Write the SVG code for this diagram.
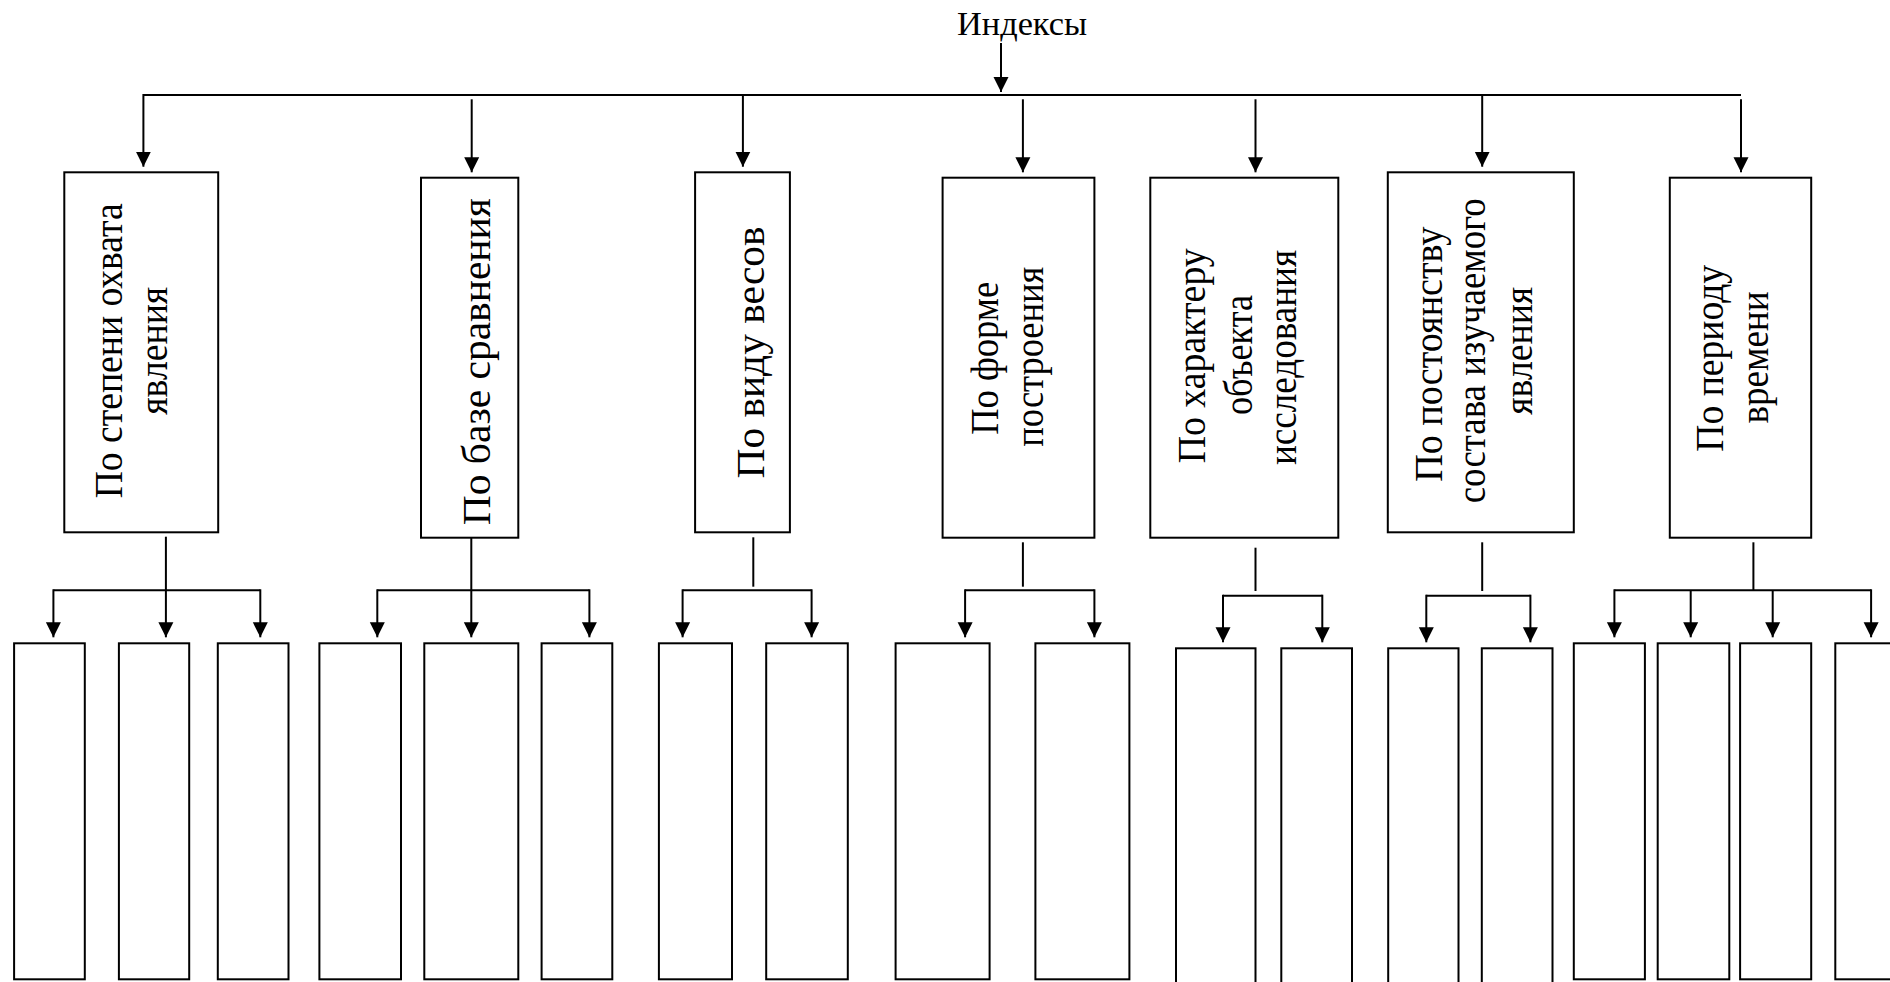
<svg xmlns="http://www.w3.org/2000/svg" width="1890" height="982" viewBox="0 0 1890 982">
<style>
  .box { fill: #ffffff; stroke: #000000; stroke-width: 2; }
  .ln { fill: none; stroke: #000000; stroke-width: 2; }
  .arr { fill: none; stroke: #000000; stroke-width: 2; marker-end: url(#ah); }
  .t { font-family: "Liberation Serif", "Times New Roman", serif; font-size: 40px; fill: #000000; text-anchor: middle; }
  .title { font-family: "Liberation Serif", "Times New Roman", serif; font-size: 33px; fill: #000000; text-anchor: middle; }
</style>
<defs>
  <marker id="ah" markerUnits="userSpaceOnUse" markerWidth="16" markerHeight="16" viewBox="0 0 16 16" refX="15" refY="8" orient="auto">
    <path d="M0,0.5 L15,8 L0,15.5 z" fill="#000000"/>
  </marker>
</defs>
<rect width="1890" height="982" fill="#ffffff"/>

<g id="root">
  <text class="title" x="1022" y="35" textLength="130" lengthAdjust="spacingAndGlyphs">Индексы</text>
</g>

<g id="connectors">
  <line class="arr" x1="1001" y1="43" x2="1001" y2="92"/>
  <line class="ln" x1="143.4" y1="95" x2="1741" y2="95"/>
  <line class="arr" x1="143.4" y1="94" x2="143.4" y2="166.7"/>
  <line class="arr" x1="471.7" y1="99.3" x2="471.7" y2="172.3"/>
  <line class="arr" x1="742.9" y1="95" x2="742.9" y2="166.7"/>
  <line class="arr" x1="1022.9" y1="99.3" x2="1022.9" y2="172.3"/>
  <line class="arr" x1="1255.5" y1="99.3" x2="1255.5" y2="172.3"/>
  <line class="arr" x1="1482.2" y1="95" x2="1482.2" y2="166.7"/>
  <line class="arr" x1="1741" y1="99.3" x2="1741" y2="172.3"/>

  <!-- group 1 -->
  <line class="ln" x1="165.9" y1="536.7" x2="165.9" y2="590.3"/>
  <line class="ln" x1="53.4" y1="590.3" x2="260.3" y2="590.3"/>
  <line class="arr" x1="53.4" y1="589.3" x2="53.4" y2="637.3"/>
  <line class="arr" x1="165.9" y1="590.3" x2="165.9" y2="637.3"/>
  <line class="arr" x1="260.3" y1="589.3" x2="260.3" y2="637.3"/>
  <!-- group 2 -->
  <line class="ln" x1="471.3" y1="537.7" x2="471.3" y2="590.3"/>
  <line class="ln" x1="377.3" y1="590.3" x2="589.4" y2="590.3"/>
  <line class="arr" x1="377.3" y1="589.3" x2="377.3" y2="637.3"/>
  <line class="arr" x1="471.3" y1="590.3" x2="471.3" y2="637.3"/>
  <line class="arr" x1="589.4" y1="589.3" x2="589.4" y2="637.3"/>
  <!-- group 3 -->
  <line class="ln" x1="753.3" y1="537.3" x2="753.3" y2="586.7"/>
  <line class="ln" x1="682.6" y1="590.3" x2="811.6" y2="590.3"/>
  <line class="arr" x1="682.6" y1="589.3" x2="682.6" y2="637.3"/>
  <line class="arr" x1="811.6" y1="589.3" x2="811.6" y2="637.3"/>
  <!-- group 4 -->
  <line class="ln" x1="1022.9" y1="542.3" x2="1022.9" y2="586.7"/>
  <line class="ln" x1="965.1" y1="590.3" x2="1094.4" y2="590.3"/>
  <line class="arr" x1="965.1" y1="589.3" x2="965.1" y2="637.3"/>
  <line class="arr" x1="1094.4" y1="589.3" x2="1094.4" y2="637.3"/>
  <!-- group 5 -->
  <line class="ln" x1="1255.5" y1="547.7" x2="1255.5" y2="591"/>
  <line class="ln" x1="1223" y1="595.7" x2="1322.3" y2="595.7"/>
  <line class="arr" x1="1223" y1="594.7" x2="1223" y2="642.3"/>
  <line class="arr" x1="1322.3" y1="594.7" x2="1322.3" y2="642.3"/>
  <!-- group 6 -->
  <line class="ln" x1="1482.2" y1="542.3" x2="1482.2" y2="591"/>
  <line class="ln" x1="1426.3" y1="595.7" x2="1530.4" y2="595.7"/>
  <line class="arr" x1="1426.3" y1="594.7" x2="1426.3" y2="642.3"/>
  <line class="arr" x1="1530.4" y1="594.7" x2="1530.4" y2="642.3"/>
  <!-- group 7 -->
  <line class="ln" x1="1753.4" y1="542.3" x2="1753.4" y2="590.3"/>
  <line class="ln" x1="1614.4" y1="590.3" x2="1871.1" y2="590.3"/>
  <line class="arr" x1="1614.4" y1="589.3" x2="1614.4" y2="637.3"/>
  <line class="arr" x1="1690.7" y1="590.3" x2="1690.7" y2="637.3"/>
  <line class="arr" x1="1772.7" y1="590.3" x2="1772.7" y2="637.3"/>
  <line class="arr" x1="1871.1" y1="589.3" x2="1871.1" y2="637.3"/>
</g>

<g id="n1">
  <rect class="box" x="64.3" y="172.3" width="153.9" height="360"/>
  <text class="t" transform="translate(122,350.8) rotate(-90)" textLength="295" lengthAdjust="spacingAndGlyphs">По степени охвата</text>
  <text class="t" transform="translate(167.4,350.8) rotate(-90)" textLength="128" lengthAdjust="spacingAndGlyphs">явления</text>
</g>
<g id="n2">
  <rect class="box" x="421" y="177.7" width="97.3" height="360"/>
  <text class="t" transform="translate(489.7,361.7) rotate(-90)" textLength="327" lengthAdjust="spacingAndGlyphs">По базе сравнения</text>
</g>
<g id="n3">
  <rect class="box" x="695.1" y="172.3" width="94.8" height="360"/>
  <text class="t" transform="translate(764,352.5) rotate(-90)" textLength="252" lengthAdjust="spacingAndGlyphs">По виду весов</text>
</g>
<g id="n4">
  <rect class="box" x="942.6" y="177.7" width="151.8" height="360"/>
  <text class="t" transform="translate(997.5,358.3) rotate(-90)" textLength="153" lengthAdjust="spacingAndGlyphs">По форме</text>
  <text class="t" transform="translate(1043,356.7) rotate(-90)" textLength="180" lengthAdjust="spacingAndGlyphs">построения</text>
</g>
<g id="n5">
  <rect class="box" x="1150.3" y="177.7" width="188" height="360"/>
  <text class="t" transform="translate(1205,355.8) rotate(-90)" textLength="215" lengthAdjust="spacingAndGlyphs">По характеру</text>
  <text class="t" transform="translate(1251.5,355) rotate(-90)" textLength="120" lengthAdjust="spacingAndGlyphs">объекта</text>
  <text class="t" transform="translate(1296,357.5) rotate(-90)" textLength="215" lengthAdjust="spacingAndGlyphs">исследования</text>
</g>
<g id="n6">
  <rect class="box" x="1387.8" y="172.3" width="186" height="360"/>
  <text class="t" transform="translate(1441.5,354.2) rotate(-90)" textLength="255" lengthAdjust="spacingAndGlyphs">По постоянству</text>
  <text class="t" transform="translate(1485,350.8) rotate(-90)" textLength="305" lengthAdjust="spacingAndGlyphs">состава изучаемого</text>
  <text class="t" transform="translate(1531.5,350.8) rotate(-90)" textLength="128" lengthAdjust="spacingAndGlyphs">явления</text>
</g>
<g id="n7">
  <rect class="box" x="1669.8" y="177.7" width="141.4" height="360"/>
  <text class="t" transform="translate(1723,358.3) rotate(-90)" textLength="187" lengthAdjust="spacingAndGlyphs">По периоду</text>
  <text class="t" transform="translate(1768.3,357.5) rotate(-90)" textLength="132" lengthAdjust="spacingAndGlyphs">времени</text>
</g>

<g id="n1a"><rect class="box" x="14.1" y="643.3" width="70.7" height="336"/></g>
<g id="n1b"><rect class="box" x="118.9" y="643.3" width="70.3" height="336"/></g>
<g id="n1c"><rect class="box" x="217.8" y="643.3" width="70.7" height="336"/></g>
<g id="n2a"><rect class="box" x="319.4" y="643.3" width="81.6" height="336"/></g>
<g id="n2b"><rect class="box" x="424.3" y="643.3" width="94" height="336"/></g>
<g id="n2c"><rect class="box" x="541.6" y="643.3" width="70.7" height="336"/></g>
<g id="n3a"><rect class="box" x="658.9" y="643.3" width="73.1" height="336"/></g>
<g id="n3b"><rect class="box" x="766.2" y="643.3" width="81.6" height="336"/></g>
<g id="n4a"><rect class="box" x="895.6" y="643.3" width="94" height="336"/></g>
<g id="n4b"><rect class="box" x="1035.4" y="643.3" width="94" height="336"/></g>
<g id="n5a"><rect class="box" x="1176" y="648.3" width="79.5" height="345"/></g>
<g id="n5b"><rect class="box" x="1281.3" y="648.3" width="70.7" height="345"/></g>
<g id="n6a"><rect class="box" x="1388.2" y="648.3" width="70.3" height="345"/></g>
<g id="n6b"><rect class="box" x="1481.8" y="648.3" width="70.7" height="345"/></g>
<g id="n7a"><rect class="box" x="1573.8" y="643.3" width="71.1" height="336"/></g>
<g id="n7b"><rect class="box" x="1657.7" y="643.3" width="71.6" height="336"/></g>
<g id="n7c"><rect class="box" x="1740.1" y="643.3" width="71.1" height="336"/></g>
<g id="n7d"><rect class="box" x="1835.3" y="643.3" width="80" height="336"/></g>
</svg>
